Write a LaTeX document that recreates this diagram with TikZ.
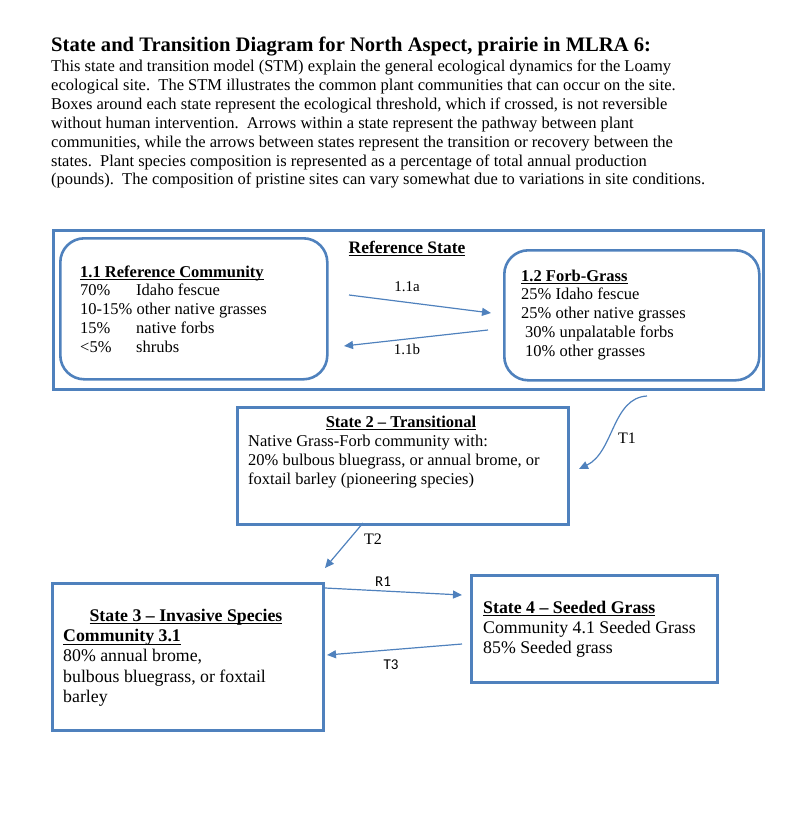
\documentclass[tikz,border=0pt]{standalone}
\usepackage{fontspec}
\setmainfont{Liberation Serif}
\newfontfamily\calibrifont{Carlito}
\usepackage{tikz}
\usetikzlibrary{arrows.meta}
\definecolor{stmblue}{RGB}{79,129,189}
\newcommand{\ulbf}[1]{\setbox0\hbox{\textbf{#1}}\rlap{\vrule height -2.2pt depth 3.4pt width \wd0}\box0}
\newcommand{\tabpc}[1]{\makebox[56pt][l]{#1}}

\begin{document}
\begin{tikzpicture}[x=1pt, y=-1pt,
    statebox/.style={draw=stmblue, line width=2.6pt, anchor=north west, inner sep=0pt},
    commbox/.style={statebox, rounded corners=24pt},
    trans/.style={draw=stmblue, line width=1.2pt, -{Triangle[length=9pt,width=8pt]}},
    txt/.style={align=left, anchor=base west, inner sep=0pt, font=\fontsize{16.5}{18.8}\selectfont},
    bigtxt/.style={align=left, anchor=base west, inner sep=0pt, font=\fontsize{17.8}{20.2}\selectfont},
    lbl/.style={inner sep=0pt, font=\fontsize{15}{18}\selectfont},
    sanslbl/.style={inner sep=0pt, font=\calibrifont\fontsize{15}{18}\selectfont}]
    \useasboundingbox (0,0) rectangle (800,816);

    % Heading (multi-line texts sit on their last baseline)
    \node[anchor=base west, inner sep=0pt, font=\fontsize{20.6}{24}\selectfont\bfseries] (title) at (51,52)
        {State and Transition Diagram for North Aspect, prairie in MLRA 6:};
    \node[align=left, anchor=base west, inner sep=0pt, font=\fontsize{16.5}{18.9}\selectfont] (intro) at (51,184.9)
        {This state and transition model (STM) explain the general ecological dynamics for the Loamy\\
         ecological site.\ \ The STM illustrates the common plant communities that can occur on the site.\\
         Boxes around each state represent the ecological threshold, which if crossed, is not reversible\\
         without human intervention.\ \ Arrows within a state represent the pathway between plant\\
         communities, while the arrows between states represent the transition or recovery between the\\
         states.\ \ Plant species composition is represented as a percentage of total annual production\\
         (pounds).\ \ The composition of pristine sites can vary somewhat due to variations in site conditions.};

    % Boxes
    \node[statebox, minimum width=710, minimum height=159] (refstate) at (52,229) {};
    \node[commbox, minimum width=267, minimum height=141] (comm11box) at (59,237) {};
    \node[commbox, minimum width=255, minimum height=130] (comm12box) at (503,249) {};
    \node[statebox, minimum width=331, minimum height=117] (state2box) at (236,406) {};
    \node[statebox, minimum width=271, minimum height=147] (state3box) at (51,582) {};
    \node[statebox, minimum width=246, minimum height=107] (state4box) at (470,574) {};

    % Box texts
    \node[anchor=base, inner sep=0pt, font=\fontsize{17.5}{20}\selectfont] (refname) at (407,253) {\ulbf{Reference State}};
    \node[txt] (comm11) at (80,352.2) {\ulbf{1.1 Reference Community}\\
        \tabpc{70\%}Idaho fescue\\ 10-15\% other native grasses\\ \tabpc{15\%}native forbs\\ \tabpc{<5\%}shrubs};
    \node[txt] (comm12) at (521,356.2) {\ulbf{1.2 Forb-Grass}\\ 25\% Idaho fescue\\ 25\% other native grasses\\
        \hspace*{4pt}30\% unpalatable forbs\\ \hspace*{4pt}10\% other grasses};
    \node[anchor=base, inner sep=0pt, font=\fontsize{16.5}{19}\selectfont] (state2name) at (401,427) {\ulbf{State 2 -- Transitional}};
    \node[txt, font=\fontsize{16.5}{19.3}\selectfont] (state2) at (248,484.6) {Native Grass-Forb community with:\\
        20\% bulbous bluegrass, or annual brome, or\\ foxtail barley (pioneering species)};
    \node[anchor=base, inner sep=0pt, font=\fontsize{17.8}{20}\selectfont] (state3name) at (186,621) {\ulbf{State 3 -- Invasive Species}};
    \node[bigtxt] (state3) at (63,702.3) {\ulbf{Community 3.1}\\ 80\% annual brome,\\ bulbous bluegrass, or foxtail\\ barley};
    \node[bigtxt, font=\fontsize{17.8}{20}\selectfont] (state4) at (483,653) {\ulbf{State 4 -- Seeded Grass}\\
        Community 4.1 Seeded Grass\\ 85\% Seeded grass};

    % Arrow ends
    \coordinate (a11s) at (349,295);  \coordinate (a11e) at (491,313);
    \coordinate (b11s) at (488,330);  \coordinate (b11e) at (344,346);
    \coordinate (t1s) at (647,396);   \coordinate (t1e) at (579,469);
    \coordinate (t2s) at (363,523);   \coordinate (t2e) at (325,568);
    \coordinate (r1s) at (325,588);   \coordinate (r1e) at (462,595);
    \coordinate (t3s) at (462,644);   \coordinate (t3e) at (327,655);

    % Draw transitions
    \draw[trans] (a11s) -- (a11e);
    \draw[trans] (b11s) -- (b11e);
    \draw[trans] (t1s) .. controls (612,398) and (614,452) .. (t1e);
    \draw[trans] (t2s) -- (t2e);
    \draw[trans] (r1s) -- (r1e);
    \draw[trans] (t3s) -- (t3e);

    % Arrow labels
    \node[lbl] (l11a) at (407,287) {1.1a};
    \node[lbl] (l11b) at (407,349) {1.1b};
    \node[lbl, font=\fontsize{16}{18}\selectfont] (lt1) at (627,438) {T1};
    \node[lbl, font=\fontsize{16}{18}\selectfont] (lt2) at (373,539) {T2};
    \node[sanslbl] (lr1) at (383,582) {R1};
    \node[sanslbl] (lt3) at (391,665) {T3};
\end{tikzpicture}
\end{document}
